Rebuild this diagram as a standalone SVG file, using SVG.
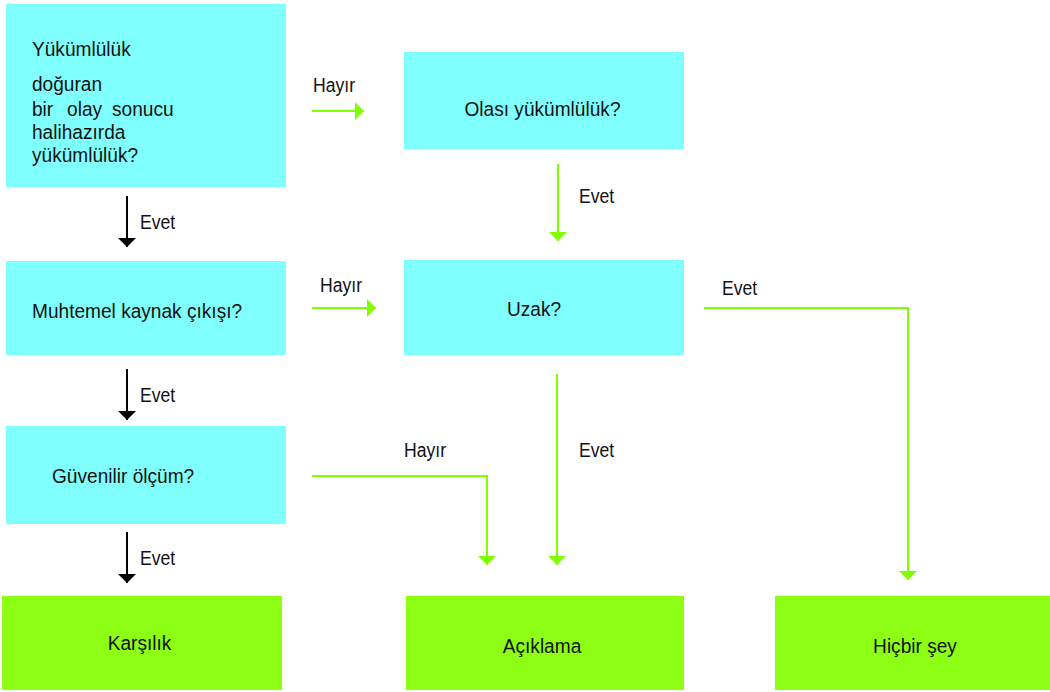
<svg xmlns="http://www.w3.org/2000/svg" width="1050" height="692" viewBox="0 0 1050 692">
<style>
.q{fill:#80FFFF}
.r{fill:#8CFF14}
text{font-family:"Liberation Sans",Arial,sans-serif;font-size:21px;fill:#111}
.g{fill:none;stroke:#80FF00;stroke-width:2}
.k{fill:none;stroke:#000;stroke-width:2}
</style>
<defs>
<marker id="ag" markerUnits="userSpaceOnUse" markerWidth="10" markerHeight="18" refX="9" refY="9" orient="auto" viewBox="0 0 10 18"><path d="M0,0 L9,9 L0,18 z" fill="#80FF00"/></marker>
<marker id="ak" markerUnits="userSpaceOnUse" markerWidth="10" markerHeight="18" refX="9" refY="9" orient="auto" viewBox="0 0 10 18"><path d="M0,0 L9,9 L0,18 z" fill="#000"/></marker>
</defs>
<rect width="1050" height="692" fill="#fff"/>
<g id="n1">
<rect class="q" x="6" y="4" width="280" height="183"/>
<text transform="translate(32 56) scale(0.91 1)">Yükümlülük</text>
<text transform="translate(32 91) scale(0.91 1)">doğuran</text>
<text transform="translate(32 116) scale(0.91 1)"><tspan x="0">bir</tspan><tspan x="38.5">olay</tspan><tspan x="88">sonucu</tspan></text>
<text transform="translate(32 139) scale(0.91 1)">halihazırda</text>
<text transform="translate(32 162) scale(0.91 1)">yükümlülük?</text>
</g>
<g id="n2">
<rect class="q" x="6" y="261" width="280" height="94"/>
<text transform="translate(32 318) scale(0.91 1)">Muhtemel kaynak çıkışı?</text>
</g>
<g id="n3">
<rect class="q" x="6" y="426" width="280" height="98"/>
<text transform="translate(52 483) scale(0.91 1)">Güvenilir ölçüm?</text>
</g>
<g id="n4">
<rect class="q" x="404" y="52" width="280" height="97"/>
<text text-anchor="middle" transform="translate(542.5 116) scale(0.91 1)">Olası yükümlülük?</text>
</g>
<g id="n5">
<rect class="q" x="404" y="260" width="280" height="95"/>
<text transform="translate(507 316) scale(0.91 1)">Uzak?</text>
</g>
<g id="n6">
<rect class="r" x="2" y="596" width="280" height="94"/>
<text text-anchor="middle" transform="translate(139.5 650) scale(0.91 1)">Karşılık</text>
</g>
<g id="n7">
<rect class="r" x="406" y="596" width="278" height="94"/>
<text text-anchor="middle" transform="translate(542 653) scale(0.91 1)">Açıklama</text>
</g>
<g id="n8">
<rect class="r" x="775" y="596" width="275" height="94"/>
<text text-anchor="middle" transform="translate(915 653) scale(0.91 1)">Hiçbir şey</text>
</g>
<g id="connectors">
<path class="k" d="M127,196 V247" marker-end="url(#ak)"/>
<path class="k" d="M127,369 V420" marker-end="url(#ak)"/>
<path class="k" d="M127,532 V583" marker-end="url(#ak)"/>
<path class="g" d="M312,111 H364" marker-end="url(#ag)"/>
<path class="g" d="M312,308 H376" marker-end="url(#ag)"/>
<path class="g" d="M558,164 V241" marker-end="url(#ag)"/>
<path class="g" d="M557,374 V565" marker-end="url(#ag)"/>
<path class="g" d="M704,308 H908 V580" marker-end="url(#ag)"/>
<path class="g" d="M312,476 H487 V565" marker-end="url(#ag)"/>
<text transform="translate(140 229) scale(0.84 1)">Evet</text>
<text transform="translate(140 402) scale(0.84 1)">Evet</text>
<text transform="translate(140 565) scale(0.84 1)">Evet</text>
<text transform="translate(313 92) scale(0.84 1)">Hayır</text>
<text transform="translate(320 292) scale(0.84 1)">Hayır</text>
<text transform="translate(404 457) scale(0.84 1)">Hayır</text>
<text transform="translate(579 203) scale(0.84 1)">Evet</text>
<text transform="translate(579 457) scale(0.84 1)">Evet</text>
<text transform="translate(722 295) scale(0.84 1)">Evet</text>
</g>
</svg>
